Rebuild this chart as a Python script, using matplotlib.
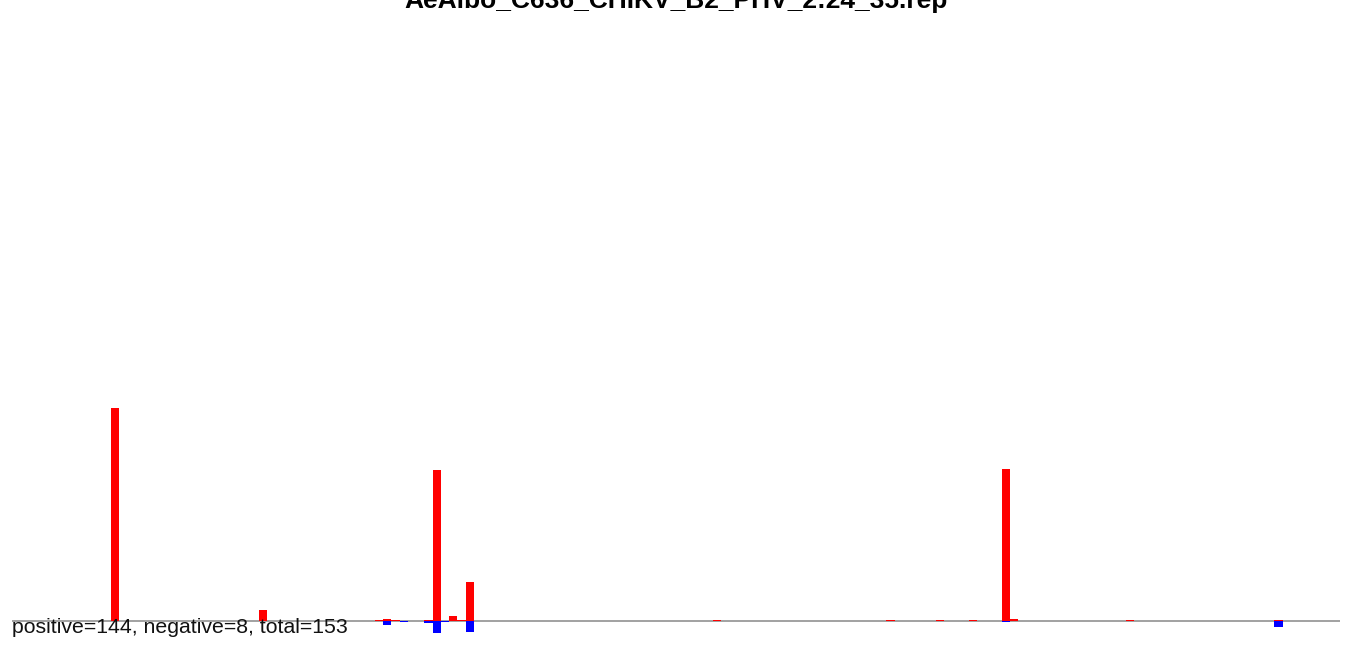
import matplotlib
matplotlib.use("Agg")
import matplotlib.pyplot as plt

title = "AeAlbo_C636_CHIKV_B2_PHV_2:24_35.rep"
summary = "positive=144, negative=8, total=153"

n_bins = 149
pos_bins = [6, 24, 38, 39, 40, 44, 45, 47, 48, 49, 79, 100, 106, 110, 114, 115, 129, 147]
pos_vals = [213, 11, 1.2, 2, 1.2, 1.2, 151, 5, 1.2, 39, 1.2, 1.2, 1.2, 1.2, 152, 2, 1.2, 1.2]
neg_bins = [39, 41, 44, 45, 46, 49, 114, 147]
neg_vals = [4, 1.2, 2, 12, 1.2, 11, 1.2, 6]

W, H, DPI = 1357, 645, 100
fig = plt.figure(figsize=(W / DPI, H / DPI), dpi=DPI)
plt.rcParams['font.family'] = ['Liberation Sans', 'DejaVu Sans']

ax = fig.add_axes([12 / W, 0, 1328 / W, (H - 40) / H])
ax.bar(pos_bins, pos_vals, width=1, align='edge', color='#ff0000', linewidth=0, zorder=3)
ax.bar(neg_bins, [-v for v in neg_vals], width=1, align='edge', color='#0000ff', linewidth=0, zorder=3)
ax.axhline(0, color='#888888', lw=1.1, zorder=2)
ax.set_xlim(-0.04 * n_bins, n_bins * 1.04)
ax.set_ylim(-24, 581)
ax.axis('off')

fig.text(676 / W, 1 - 8 / H, title, ha='center', va='baseline',
         fontsize=19, fontweight='bold', color='black')
fig.text(12 / W, 1 - 633 / H, summary, ha='left', va='baseline',
         fontsize=15.3, color='#111111')

fig.savefig("out.png", dpi=DPI)
